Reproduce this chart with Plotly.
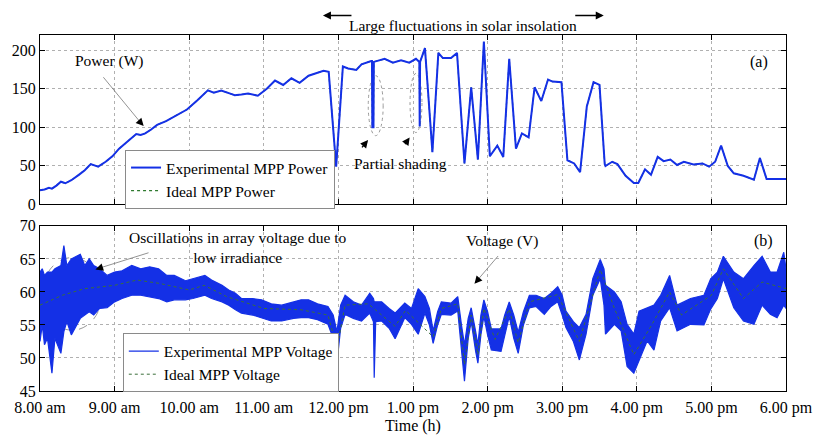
import plotly.graph_objects as go

# ---------------- data ----------------
hour_ticks = [8, 9, 10, 11, 12, 13, 14, 15, 16, 17, 18]
hour_labels = ["8.00 am", "9.00 am", "10.00 am", "11.00 am", "12.00 pm", "1.00 pm",
               "2.00 pm", "3.00 pm", "4.00 pm", "5.00 pm", "6.00 pm"]
power_ticks = [0, 50, 100, 150, 200]
volt_ticks = [45, 50, 55, 60, 65, 70]

power_t = [8.00, 8.06, 8.12, 8.16, 8.22, 8.28, 8.34, 8.42, 8.52, 8.60, 8.68, 8.78, 8.88, 8.97,
           9.06, 9.18, 9.29, 9.35, 9.41, 9.49, 9.57, 9.69, 9.81, 9.89, 9.97,
           10.11, 10.25, 10.33, 10.43, 10.57, 10.61, 10.70, 10.79, 10.92, 11.04, 11.15, 11.26, 11.37,
           11.48, 11.60, 11.70, 11.80, 11.87, 11.97, 12.06, 12.13, 12.24, 12.31, 12.44, 12.45, 12.455,
           12.47, 12.475, 12.62, 12.73, 12.84, 12.95, 13.04, 13.085, 13.09, 13.095, 13.16, 13.26,
           13.34, 13.40, 13.51, 13.59, 13.69, 13.78, 13.87, 13.95, 14.03, 14.13, 14.21, 14.29,
           14.38, 14.46, 14.55, 14.63, 14.72, 14.81, 14.87, 14.99, 15.07, 15.16, 15.24, 15.33,
           15.42, 15.50, 15.57, 15.58, 15.67, 15.74, 15.85, 15.96, 16.02, 16.11, 16.19, 16.28,
           16.36, 16.45, 16.54, 16.63, 16.76, 16.88, 16.97, 17.05, 17.13, 17.22, 17.30, 17.43,
           17.57, 17.65, 17.74, 18.00]
power_w = [18, 19, 21, 20, 24, 29, 27, 31, 38, 44, 52, 48.6, 55, 62,
           72, 82, 91, 90, 92, 97, 103, 108, 114, 118, 123,
           135, 148, 145, 147.6, 143, 141.6, 142.5, 143.8, 141, 150, 160.7, 155, 163.7,
           157.7, 167, 170, 173.4, 172, 48.6, 179, 176.4, 174.6, 181.9, 186, 186, 100,
           100, 185, 189, 184, 187, 184, 189, 185, 101, 185, 203, 67.6,
           196.7, 190, 190, 196.7, 52.8, 152, 57.9, 211.4, 62.2, 76, 61.3, 189,
           72, 91.8, 86.7, 152, 134, 162, 159.4, 158.6, 57, 52.8, 41.4, 127,
           158.6, 155, 52, 49.5, 55, 52, 36.8, 27.4, 27.4, 45.2, 38, 61.3,
           55.8, 57.9, 50.8, 55, 51.5, 52.8, 48.6, 55, 76, 49.5, 40, 36.8,
           31.7, 60, 32.5, 32.5]

volt_t = [8.00, 8.03, 8.06, 8.10, 8.16, 8.20, 8.28, 8.32, 8.36, 8.42, 8.54, 8.60, 8.66, 8.72,
          8.80, 8.90, 9.00, 9.10, 9.23, 9.35, 9.47, 9.59, 9.70, 9.80, 9.95, 10.05, 10.21, 10.30,
          10.44, 10.53, 10.62, 10.70, 10.85, 10.97, 11.10, 11.24, 11.40, 11.50, 11.60, 11.72,
          11.86, 11.93, 11.98, 12.03, 12.09, 12.20, 12.31, 12.42, 12.47, 12.48, 12.50, 12.58,
          12.68, 12.76, 12.89, 12.98, 13.07, 13.16, 13.22, 13.27, 13.33, 13.38, 13.51, 13.60,
          13.65, 13.69, 13.74, 13.78, 13.84, 13.87, 13.91, 13.95, 14.00, 14.05, 14.18, 14.23,
          14.29, 14.35, 14.41, 14.48, 14.56, 14.65, 14.76, 14.85, 14.94, 15.00, 15.05, 15.15,
          15.23, 15.32, 15.41, 15.51, 15.56, 15.58, 15.70, 15.79, 15.87, 15.96, 16.03, 16.14,
          16.23, 16.32, 16.44, 16.54, 16.72, 16.90, 16.99, 17.08, 17.16, 17.30, 17.43, 17.57,
          17.68, 17.79, 17.88, 17.97, 18.00]
volt_hi = [63.0, 63.5, 62.5, 63.0, 63.0, 63.5, 64.0, 67.0, 64.0, 65.0, 65.7, 64.0, 65.0, 64.0,
           63.5, 62.5, 63.0, 63.2, 64.0, 63.5, 63.8, 63.5, 62.5, 62.5, 61.7, 62.0, 62.5, 61.8,
           61.0, 60.3, 59.8, 59.0, 59.0, 58.8, 58.2, 58.0, 58.5, 58.8, 58.8, 58.2,
           57.8, 56.5, 54.0, 58.0, 59.5, 58.5, 58.0, 59.8, 59.0, 58.5, 58.5, 58.5,
           57.5, 56.8, 58.3, 57.5, 60.5, 59.3, 57.5, 54.1, 57.0, 58.5, 58.3, 59.3,
           55.0, 52.0, 56.0, 57.6, 54.0, 52.0, 56.5, 58.8, 57.0, 54.4, 54.4, 56.5,
           58.5, 56.5, 53.9, 57.0, 59.5, 59.5, 59.0, 59.8, 60.8, 59.5, 57.1, 55.5,
           54.6, 56.6, 62.0, 64.9, 63.5, 61.0, 60.0, 58.5, 55.1, 53.6, 57.1, 57.6,
           58.0, 59.5, 62.5, 58.0, 59.0, 59.5, 62.0, 63.0, 65.4, 63.0, 62.0, 64.0,
           65.4, 63.0, 63.0, 66.0, 63.5]
volt_lo = [52.5, 55.0, 52.0, 53.0, 47.7, 53.0, 50.7, 54.0, 55.5, 53.5, 56.0, 56.5, 57.0, 56.5,
           57.5, 57.6, 58.5, 59.0, 59.5, 59.5, 59.2, 59.0, 58.5, 58.8, 58.8, 59.0, 59.5, 59.0,
           58.5, 58.0, 57.3, 56.8, 56.5, 56.1, 55.6, 55.6, 56.0, 56.1, 56.1, 55.8,
           55.1, 53.0, 49.2, 54.5, 56.6, 56.0, 55.6, 56.8, 55.5, 47.0, 55.5, 55.6,
           54.5, 52.9, 56.1, 55.1, 53.6, 56.8, 55.0, 52.2, 55.0, 56.6, 56.5, 57.1,
           51.5, 46.5, 53.0, 55.5, 51.0, 49.2, 53.5, 56.3, 53.5, 51.2, 51.0, 53.5,
           56.3, 53.0, 50.7, 55.0, 57.6, 57.8, 56.6, 57.8, 58.5, 56.5, 54.6, 52.5,
           49.7, 53.6, 59.5, 62.0, 58.0, 53.6, 55.1, 54.1, 48.7, 47.7, 49.7, 52.6,
           51.2, 55.6, 57.6, 54.1, 55.1, 55.0, 57.4, 59.0, 62.0, 57.6, 55.6, 55.1,
           58.0, 56.6, 56.1, 58.0, 57.5]

ideal_volt_t = [8.0, 8.3, 8.6, 9.0, 9.3, 9.6, 10.0, 10.2, 10.5, 11.0, 11.5, 11.86, 11.98, 12.09,
                12.4, 12.76, 12.9, 13.27, 13.38, 13.6, 13.69, 13.78, 13.87, 13.95, 14.1, 14.29,
                14.41, 14.56, 14.94, 15.23, 15.51, 15.7, 15.96, 16.2, 16.44, 16.6, 17.0, 17.16,
                17.43, 17.68, 18.0]
ideal_volt = [58, 59.5, 60.5, 61, 61.8, 61.3, 60.3, 61, 59.3, 57.5, 57.3, 56.5, 51.5, 58,
              58.2, 54.8, 57.2, 53.2, 57.5, 58.2, 49, 56.5, 50.5, 57.5, 52.8, 57.4,
              52.3, 58.5, 59.6, 52.5, 63.4, 57.5, 50.5, 55, 60, 56.5, 59.5, 63.5,
              59, 61.5, 60.5]

# ---------------- style ----------------
BLUE = "#1430e6"
GREEN = "#2f7a2f"
FONT = "Times New Roman, Liberation Serif, serif"

fig = go.Figure()

# Panel (a): power
fig.add_trace(go.Scatter(x=power_t, y=power_w, mode="lines", name="Ideal MPP Power",
                         line=dict(color=GREEN, width=1.2, dash="dot"),
                         xaxis="x2", yaxis="y2", legend="legend", legendrank=2))
fig.add_trace(go.Scatter(x=power_t, y=power_w, mode="lines", name="Experimental MPP Power",
                         line=dict(color=BLUE, width=2),
                         xaxis="x2", yaxis="y2", legend="legend", legendrank=1))

# Panel (b): voltage band
fig.add_trace(go.Scatter(x=volt_t, y=volt_lo, mode="lines", name="Experimental MPP Voltage",
                         line=dict(color=BLUE, width=1.2), legend="legend2", legendrank=1))
fig.add_trace(go.Scatter(x=volt_t, y=volt_hi, mode="lines", showlegend=False,
                         line=dict(color=BLUE, width=1.2), fill="tonexty", fillcolor=BLUE))
fig.add_trace(go.Scatter(x=ideal_volt_t, y=ideal_volt, mode="lines", name="Ideal MPP Voltage",
                         line=dict(color="#3a6e3a", width=1, dash="dot"),
                         legend="legend2", legendrank=2))

axis_common = dict(showline=True, linecolor="black", linewidth=1, mirror="ticks",
                   ticks="inside", ticklen=5, tickcolor="black",
                   showgrid=True, gridcolor="#b0b0b0", griddash="dot", gridwidth=1,
                   zeroline=False, tickfont=dict(family=FONT, size=16, color="black"))

legend_common = dict(bgcolor="white", bordercolor="#8a8a8a", borderwidth=1,
                     font=dict(family=FONT, size=15.5, color="black"),
                     xanchor="left", yanchor="top", itemwidth=30, tracegroupgap=0,
                     traceorder="normal")

gray_arrow = dict(showarrow=True, arrowhead=0, arrowwidth=0.8, arrowcolor="#777777", text="")
black_head = dict(showarrow=True, arrowhead=2, arrowsize=1.1, arrowwidth=1.4,
                  arrowcolor="black", text="")
top_arrow = dict(showarrow=True, arrowhead=2, arrowsize=1.0, arrowwidth=1.6,
                 arrowcolor="black", text="", ayref="pixel", ay=0)

annotations = [
    # top label with arrows
    dict(text="Large fluctuations in solar insolation", xref="paper", yref="paper",
         x=0.5676, y=1.0548, showarrow=False, font=dict(family=FONT, size=15.5, color="black")),
    dict(xref="paper", yref="paper", x=0.3793, y=1.0548, axref="pixel", ax=30, **top_arrow),
    dict(xref="paper", yref="paper", x=0.7557, y=1.0548, axref="pixel", ax=-30, **top_arrow),
    # panel (a)
    dict(text="Power (W)", xref="x2", yref="y2", x=8.927, y=185.7, showarrow=False,
         font=dict(family=FONT, size=15.5, color="black")),
    dict(xref="x2", yref="y2", x=9.37, y=103.5, axref="x2", ayref="y2", ax=8.833, ay=167,
         **gray_arrow),
    dict(xref="x2", yref="y2", x=9.39, y=101.5, axref="x2", ayref="y2", ax=9.31, ay=110,
         **black_head),
    dict(text="Partial shading", xref="x2", yref="y2", x=12.83, y=52.4, showarrow=False,
         font=dict(family=FONT, size=15.5, color="black")),
    dict(xref="x2", yref="y2", x=12.398, y=83.2, axref="x2", ayref="y2", ax=12.30, ay=71.8,
         **black_head),
    dict(xref="x2", yref="y2", x=12.955, y=86.7, axref="x2", ayref="y2", ax=12.88, ay=76.1,
         **black_head),
    dict(text="(a)", xref="x2", yref="y2", x=17.64, y=184.7, showarrow=False,
         font=dict(family=FONT, size=16, color="black")),
    # panel (b)
    dict(text="Oscillations in array voltage due to<br>low irradiance", xref="x", yref="y",
         x=10.658, y=66.8, showarrow=False, align="center",
         font=dict(family=FONT, size=15.5, color="black")),
    dict(xref="x", yref="y", x=8.78, y=63.55, axref="x", ayref="y", ax=9.475, ay=66.0,
         **gray_arrow),
    dict(xref="x", yref="y", x=8.743, y=63.4, axref="x", ayref="y", ax=8.84, ay=63.75,
         **black_head),
    dict(text="Voltage (V)", xref="x", yref="y", x=14.194, y=67.74, showarrow=False,
         font=dict(family=FONT, size=15.5, color="black")),
    dict(xref="x", yref="y", x=13.85, y=61.6, axref="x", ayref="y", ax=14.158, ay=65.67,
         **gray_arrow),
    dict(xref="x", yref="y", x=13.824, y=61.24, axref="x", ayref="y", ax=13.89, ay=62.1,
         **black_head),
    dict(text="(b)", xref="x", yref="y", x=17.70, y=67.74, showarrow=False,
         font=dict(family=FONT, size=16, color="black")),
]

shapes = [
    dict(type="circle", xref="x2", yref="y2", x0=12.40, x1=12.60, y0=89, y1=167,
         line=dict(color="#999999", width=1, dash="dot"), layer="below"),
    dict(type="circle", xref="x2", yref="y2", x0=12.96, x1=13.12, y0=93, y1=170,
         line=dict(color="#999999", width=1, dash="dot"), layer="below"),
    dict(type="circle", xref="x", yref="y", x0=8.03, x1=8.83, y0=54.2, y1=65.2,
         line=dict(color="#999999", width=1, dash="dash"), layer="below"),
]

fig.update_layout(
    width=830, height=442,
    margin=dict(l=38, r=44, t=35, b=42),
    plot_bgcolor="white", paper_bgcolor="white",
    font=dict(family=FONT, size=16, color="black"),
    xaxis=dict(domain=[0, 1], anchor="y", range=[8, 18], tickvals=hour_ticks,
               ticktext=hour_labels, ticklabelstandoff=2,
               title=dict(text="Time (h)", font=dict(family=FONT, size=16), standoff=2),
               **axis_common),
    yaxis=dict(domain=[0, 0.4638], anchor="x", range=[45, 70], tickvals=volt_ticks,
               **axis_common),
    xaxis2=dict(domain=[0, 1], anchor="y2", range=[8, 18], tickvals=hour_ticks,
                showticklabels=False, matches="x", **axis_common),
    yaxis2=dict(domain=[0.5252, 1], anchor="x2", range=[0, 220], tickvals=power_ticks,
                **axis_common),
    legend=dict(x=0.114, y=0.677, **legend_common),
    legend2=dict(x=0.111, y=0.1616, **legend_common),
    annotations=annotations,
    shapes=shapes,
)

fig.write_html("out.html", config={"displayModeBar": False},
               post_script="document.body.style.margin='0';document.body.style.overflow='hidden';")
